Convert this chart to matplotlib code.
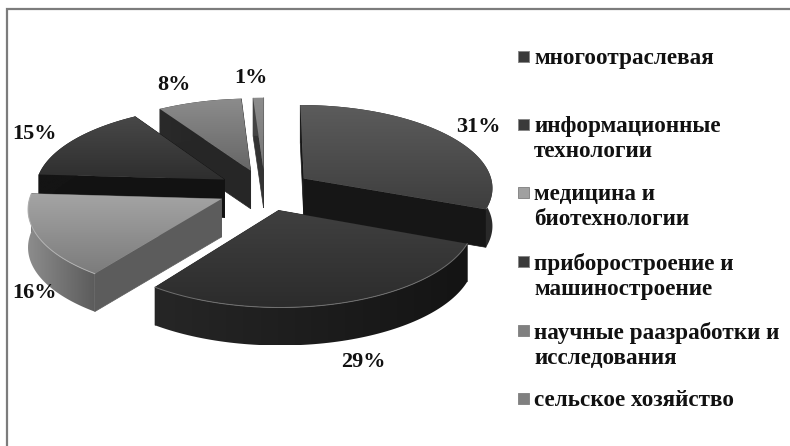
import numpy as np
import matplotlib
matplotlib.use("Agg")
import matplotlib.pyplot as plt
from matplotlib.patches import Polygon

plt.rcParams['font.family'] = ['Liberation Serif', 'DejaVu Serif']

# Data
categories = ['многоотраслевая', 'информационные\nтехнологии', 'медицина и\nбиотехнологии',
              'приборостроение и\nмашиностроение', 'научные раазработки и\nисследования',
              'сельское хозяйство']
values = [31, 29, 16, 15, 8, 1]
labels = ['31%', '29%', '16%', '15%', '8%', '1%']

# Pie geometry, pixels of the figure
cx, cy = 265, 190
rx, ry = 190, 83
persp = 0.10
explode = 0.25
depth = 38

# colours per slice: top face (back, front), rim (left, right), cut face
top_cols = [('#5c5c5c', '#3e3e3e'), ('#404040', '#2c2c2c'), ('#a4a4a4', '#7c7c7c'),
            ('#484848', '#2e2e2e'), ('#8c8c8c', '#666666'), ('#8c8c8c', '#777777')]
rim_cols = [('#1a1a1a', '#2a2a2a'), ('#262626', '#141414'), ('#8c8c8c', '#5c5c5c'),
            ('#141414', '#141414'), ('#2a2a2a', '#222222'), ('#444444', '#444444')]
cut_cols = ['#161616', '#1c1c1c', '#5c5c5c', '#121212', '#262626', '#333333']
edge_cols = [None, '#707070', '#b0b0b0', None, None, None]
draw_order = [5, 4, 0, 3, 2, 1]

label_pos = [(478, 127), (363, 362), (34, 293), (35, 134), (174, 85), (251, 78)]
legend_y = [57, 125, 193, 262, 331, 399]
legend_cols = ['#3a3a3a', '#3a3a3a', '#a0a0a0', '#3a3a3a', '#808080', '#808080']


def project(x, y, z=0.0):
    s = 1 / (1 + persp * y)
    return cx + rx * x * s, cy - ry * y * s + depth * z


def gradient_fill(ax, poly, c0, c1, horizontal=False, zorder=1):
    # gradient image clipped to the polygon
    xs, ys = poly[:, 0], poly[:, 1]
    grad = np.linspace(0, 1, 64)
    grad = grad.reshape(1, -1) if horizontal else grad.reshape(-1, 1)
    cmap = matplotlib.colors.LinearSegmentedColormap.from_list('g', [c0, c1])
    im = ax.imshow(grad, cmap=cmap, aspect='auto', zorder=zorder, interpolation='bilinear',
                   extent=(xs.min(), xs.max(), ys.max(), ys.min()))
    patch = Polygon(poly, closed=True, facecolor='none', edgecolor='none', transform=ax.transData)
    ax.add_patch(patch)
    im.set_clip_path(patch)


fig = plt.figure(figsize=(7.9, 4.46), dpi=100)
ax = fig.add_axes([0, 0, 1, 1])
ax.axis('off')

# frame: only the top and left sides are in the picture
ax.plot([6.5, 6.5, 790], [446, 8.5, 8.5], color='#7c7c7c', linewidth=1.6, zorder=0,
        solid_joinstyle='miter')

fracs = np.array(values) / sum(values)
bounds = np.concatenate([[0], np.cumsum(fracs)]) * 2 * np.pi

z = 1
for i in draw_order:
    a0, a1 = bounds[i], bounds[i + 1]
    mid = (a0 + a1) / 2
    ox, oy = explode * np.sin(mid), explode * np.cos(mid)
    th = np.linspace(a0, a1, 80)
    dx, dy = ox + np.sin(th), oy + np.cos(th)
    top_rim = np.array([project(x, y) for x, y in zip(dx, dy)])
    low_rim = np.array([project(x, y, 1) for x, y in zip(dx, dy)])
    apex = np.array(project(ox, oy))
    apex_low = np.array(project(ox, oy, 1))

    # radial cut faces
    for k in (0, -1):
        face = np.array([apex, top_rim[k], low_rim[k], apex_low])
        ax.add_patch(Polygon(face, closed=True, facecolor=cut_cols[i], edgecolor=cut_cols[i],
                             linewidth=0.5, zorder=z))
    z += 1
    # outer rim, front part only matters
    rim = np.vstack([top_rim, low_rim[::-1]])
    gradient_fill(ax, rim, rim_cols[i][0], rim_cols[i][1], horizontal=True, zorder=z)
    z += 1
    # top face
    top = np.vstack([apex, top_rim])
    gradient_fill(ax, top, top_cols[i][0], top_cols[i][1], zorder=z)
    z += 1
    if edge_cols[i]:
        ax.plot(top_rim[:, 0], top_rim[:, 1], color=edge_cols[i], linewidth=0.7, zorder=z)
        z += 1

for (x, y), t in zip(label_pos, labels):
    ax.text(x, y, t, fontsize=16, fontweight='bold', ha='center', va='center', color='#111111', zorder=100)

for y, t, c in zip(legend_y, categories, legend_cols):
    swatch = np.array([[517.5, y - 6], [528.5, y - 6], [528.5, y + 4.5], [517.5, y + 4.5]])
    ax.add_patch(Polygon(swatch, closed=True, facecolor=c, edgecolor='#888888', linewidth=0.7, zorder=100))
    ax.text(534, y - 9, t, fontsize=16.7, fontweight='bold', ha='left', va='top', color='#111111',
            linespacing=1.22, zorder=100)

ax.set_xlim(0, 790)
ax.set_ylim(446, 0)

fig.savefig('out.png', dpi=100)
